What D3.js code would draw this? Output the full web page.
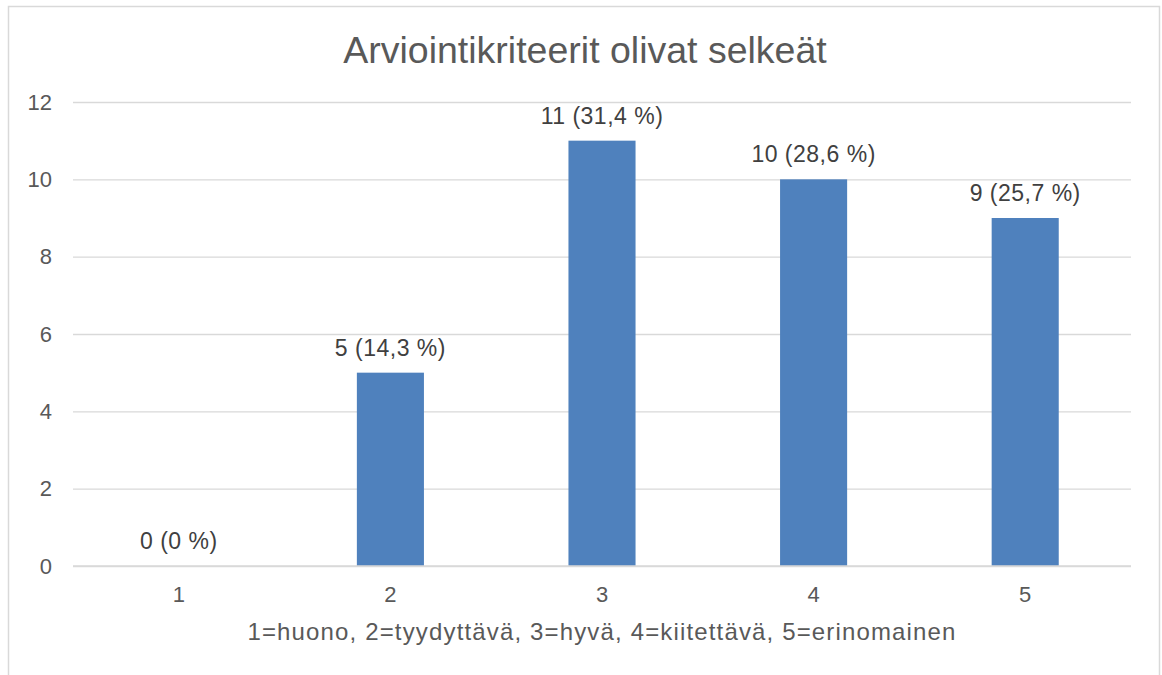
<!DOCTYPE html>
<html>
<head>
<meta charset="utf-8">
<script src="https://cdn.jsdelivr.net/npm/d3@7"></script>
<style>
  body { margin: 0; background: #fff; }
  svg { display: block; font-family: "Liberation Sans", Arial, sans-serif; }
</style>
</head>
<body>
<div id="container"></div>
<script>
var categories = ["1", "2", "3", "4", "5"];
var counts = [0, 5, 11, 10, 9];
var labels = ["0 (0 %)", "5 (14,3 %)", "11 (31,4 %)", "10 (28,6 %)", "9 (25,7 %)"];
var yTicks = [0, 2, 4, 6, 8, 10, 12];

var width = 1162;
var height = 675;
var margin = { top: 102, bottom: 109, left: 73, right: 31 }; // plot area

var svg = d3.select("#container")
    .append("svg")
    .attr("width", width)
    .attr("height", height);

// chart frame (bottom edge falls outside the picture)
svg.append("rect")
    .attr("x", 8.5)
    .attr("y", 6.5)
    .attr("width", 1151)
    .attr("height", 720)
    .attr("fill", "#fff")
    .attr("stroke", "#d9d9d9")
    .attr("stroke-width", 1.5);

var innerW = width - margin.left - margin.right;
var innerH = height - margin.top - margin.bottom;

var chart = svg.append("g")
    .attr("transform", "translate(" + margin.left + "," + margin.top + ")");

var x = d3.scaleBand()
    .domain(categories)
    .range([0, innerW])
    .paddingInner(0.683)
    .paddingOuter(0.3415);

var y = d3.scaleLinear()
    .domain([0, 12])
    .range([innerH, 0]);

// gridlines
chart.append("g")
    .attr("class", "grid")
    .call(d3.axisLeft(y).tickValues(yTicks).tickSize(-innerW).tickFormat(""))
    .call(function (g) {
        g.select(".domain").remove();
        g.selectAll("line").attr("stroke", "#d9d9d9").attr("stroke-width", 1.3);
    });

// y labels
chart.append("g")
    .call(d3.axisLeft(y).tickValues(yTicks).tickSize(0).tickPadding(21))
    .call(function (g) {
        g.select(".domain").remove();
        g.selectAll("text").attr("fill", "#595959").attr("font-size", "22px")
            .attr("text-anchor", "end");
    });

// bars
chart.selectAll(".bar")
    .data(counts)
    .enter()
    .append("rect")
    .attr("class", "bar")
    .attr("x", function (d, i) { return x(categories[i]); })
    .attr("y", function (d) { return y(d); })
    .attr("width", x.bandwidth())
    .attr("height", function (d) { return innerH - y(d); })
    .attr("fill", "#4f81bd");

// data labels
chart.selectAll(".lbl")
    .data(counts)
    .enter()
    .append("text")
    .attr("class", "lbl")
    .attr("x", function (d, i) { return x(categories[i]) + x.bandwidth() / 2; })
    .attr("y", function (d) { return y(d) - 17; })
    .attr("text-anchor", "middle")
    .attr("fill", "#404040")
    .attr("font-size", "23px")
    .attr("letter-spacing", "0.5px")
    .text(function (d, i) { return labels[i]; });

// x axis line
chart.append("line")
    .attr("x1", 0)
    .attr("x2", innerW)
    .attr("y1", innerH)
    .attr("y2", innerH)
    .attr("stroke", "#d9d9d9")
    .attr("stroke-width", 1.3);

// x labels
chart.append("g")
    .attr("transform", "translate(0," + innerH + ")")
    .call(d3.axisBottom(x).tickSize(0).tickPadding(20.7))
    .call(function (g) {
        g.select(".domain").remove();
        g.selectAll("text").attr("fill", "#595959").attr("font-size", "22px");
    });

// axis title
svg.append("text")
    .attr("x", margin.left + innerW / 2)
    .attr("y", 640)
    .attr("text-anchor", "middle")
    .attr("fill", "#595959")
    .attr("font-size", "24px")
    .attr("letter-spacing", "1.15px")
    .text("1=huono, 2=tyydyttävä, 3=hyvä, 4=kiitettävä, 5=erinomainen");

// title (centred on the whole frame, not the plot)
svg.append("text")
    .attr("x", 585)
    .attr("y", 63)
    .attr("text-anchor", "middle")
    .attr("fill", "#595959")
    .attr("font-size", "37.5px")
    .text("Arviointikriteerit olivat selkeät");
</script>
</body>
</html>
